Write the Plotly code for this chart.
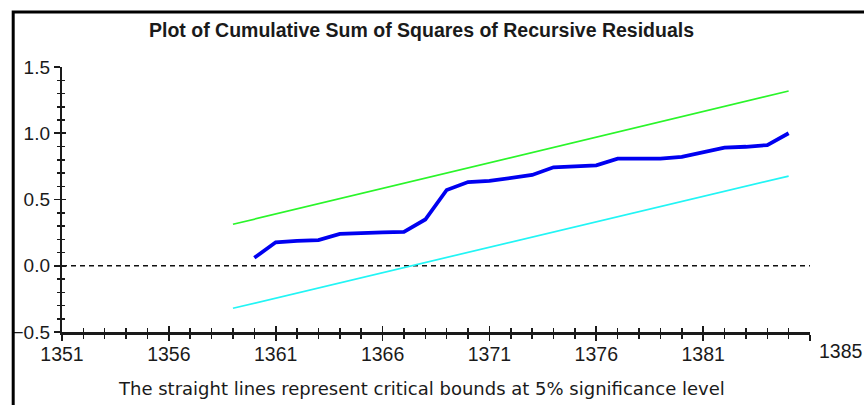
import plotly.graph_objects as go

# ---------------- data ----------------
years = list(range(1360, 1386))
cusumsq = [0.06, 0.177, 0.187, 0.194, 0.240, 0.249, 0.252, 0.255, 0.349, 0.572,
           0.632, 0.640, 0.666, 0.685, 0.743, 0.748, 0.758, 0.808, 0.808, 0.808,
           0.821, 0.855, 0.892, 0.898, 0.911, 1.0]

bound_years = [1359, 1385]
upper_bound = [0.313, 1.319]
lower_bound = [-0.321, 0.677]

x_tick_vals = [1351, 1356, 1361, 1366, 1371, 1376, 1381, 1386]
x_tick_text = ["1351", "1356", "1361", "1366", "1371", "1376", "1381", ""]
last_label = "1385"

title_text = "Plot of Cumulative Sum of Squares of Recursive Residuals"
caption_text = "The straight lines represent critical bounds at 5% significance level"

# ---------------- figure ----------------
W, H = 864, 405
L, R, T, B = 59, 54, 67, 73
pw, ph = W - L - R, H - T - B

def px_x(px):
    return (px - L) / pw

def px_y(py):
    return (H - B - py) / ph

FONT = "Liberation Sans, Arial, sans-serif"
WIDE = "DejaVu Sans, Verdana, sans-serif"
TXT = "#1a1a1a"

fig = go.Figure()
fig.add_trace(go.Scatter(x=bound_years, y=upper_bound, mode="lines",
                         line=dict(color="#2af52a", width=1.7),
                         hoverinfo="skip", showlegend=False))
fig.add_trace(go.Scatter(x=bound_years, y=lower_bound, mode="lines",
                         line=dict(color="#22f5f5", width=1.7),
                         hoverinfo="skip", showlegend=False))
fig.add_trace(go.Scatter(x=years, y=cusumsq, mode="lines",
                         line=dict(color="#0000f0", width=3.8),
                         hoverinfo="skip", showlegend=False))
# invisible trace to carry the overlay axes (inner half of crossing ticks)
fig.add_trace(go.Scatter(x=[years[0]], y=[cusumsq[0]], mode="markers",
                         marker=dict(opacity=0), xaxis="x2", yaxis="y2",
                         hoverinfo="skip", showlegend=False))

fig.update_layout(
    width=W, height=H,
    margin=dict(l=L, r=R, t=T, b=B, pad=0),
    paper_bgcolor="white", plot_bgcolor="white",
    font=dict(family=FONT, color=TXT, size=19),
    xaxis=dict(range=[1351, 1386], tickmode="array", tickvals=x_tick_vals,
               ticktext=x_tick_text, ticks="outside", ticklen=6, tickwidth=1.8,
               tickcolor=TXT, showline=True, linecolor=TXT, linewidth=2.5,
               showgrid=False, zeroline=False, ticklabelstandoff=-3,
               tickfont=dict(size=19.5, family=FONT, color=TXT),
               minor=dict(tickmode="linear", tick0=1351, dtick=1, ticks="outside",
                          ticklen=4, tickwidth=1.5, tickcolor=TXT, showgrid=False)),
    yaxis=dict(range=[-0.5, 1.5], tickmode="linear", tick0=-0.5, dtick=0.5,
               tickformat=".1f", ticks="outside", ticklen=6, tickwidth=1.8,
               tickcolor=TXT, showline=True, linecolor=TXT, linewidth=2.2,
               showgrid=False, zeroline=False,
               tickfont=dict(size=19, family=FONT, color=TXT),
               minor=dict(tickmode="linear", tick0=-0.5, dtick=0.1, ticks="outside",
                          ticklen=3, tickwidth=1.5, tickcolor=TXT, showgrid=False)),
    xaxis2=dict(overlaying="x", range=[1351, 1386], tickmode="array",
                tickvals=x_tick_vals, ticks="inside", ticklen=6, tickwidth=1.8,
                tickcolor=TXT, showticklabels=False, showline=False,
                showgrid=False, zeroline=False, side="bottom",
                minor=dict(tickmode="linear", tick0=1351, dtick=1, ticks="inside",
                           ticklen=4, tickwidth=1.5, tickcolor=TXT, showgrid=False)),
    yaxis2=dict(overlaying="y", range=[-0.5, 1.5], tickmode="linear", tick0=-0.5,
                dtick=0.5, ticks="inside", ticklen=4, tickwidth=1.8, tickcolor=TXT,
                showticklabels=False, showline=False, showgrid=False,
                zeroline=False, side="left",
                minor=dict(tickmode="linear", tick0=-0.5, dtick=0.1, ticks="inside",
                           ticklen=3, tickwidth=1.5, tickcolor=TXT, showgrid=False)),
    shapes=[
        dict(type="line", xref="paper", yref="y", x0=0, x1=1, y0=0, y1=0,
             line=dict(color="#111", width=1.5, dash="5px,4px"), layer="below"),
        dict(type="rect", xref="paper", yref="paper",
             x0=px_x(10), x1=px_x(900), y0=px_y(450), y1=px_y(12),
             line=dict(color="black", width=3), fillcolor="rgba(0,0,0,0)"),
    ],
    annotations=[
        dict(text="<b>" + title_text + "</b>", xref="paper", yref="paper",
             x=px_x(419.5), y=px_y(30), xanchor="center", yanchor="middle",
             showarrow=False, font=dict(size=19.5, family=FONT, color=TXT)),
        dict(text=caption_text, xref="paper", yref="paper",
             x=px_x(419.5), y=px_y(388), xanchor="center", yanchor="middle",
             showarrow=False, font=dict(size=18, family=WIDE, color=TXT)),
        dict(text=last_label, xref="paper", yref="paper",
             x=px_x(841), y=px_y(351), xanchor="center", yanchor="middle",
             showarrow=False, font=dict(size=19.5, family=FONT, color=TXT)),
    ],
)

fig.write_html("out.html",
               config={"displayModeBar": False, "staticPlot": True},
               post_script="document.body.style.margin='0px';"
                           "document.body.style.overflow='hidden';")
